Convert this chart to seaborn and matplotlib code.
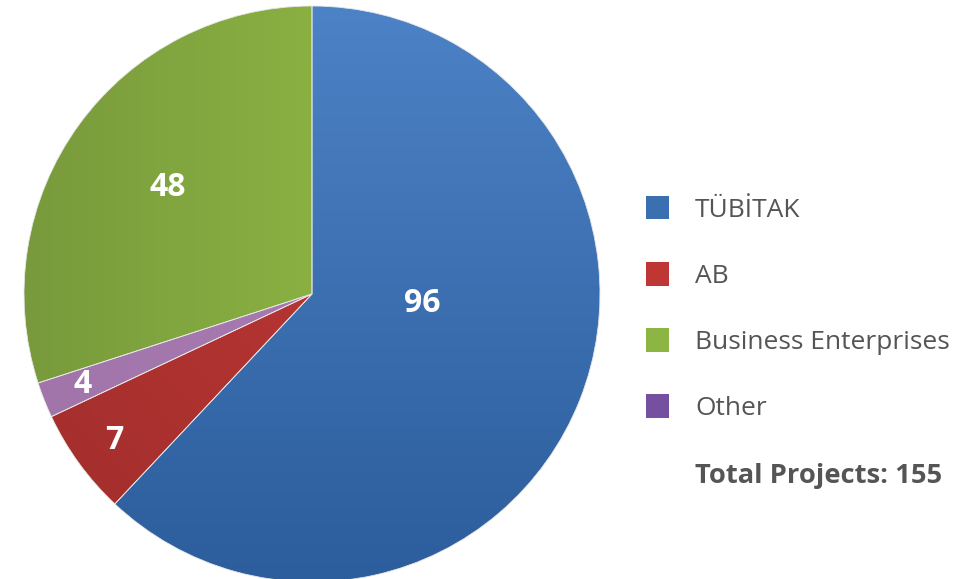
import numpy as np
import seaborn as sns
import matplotlib
matplotlib.use("Agg")
from matplotlib import pyplot as plt
from matplotlib.patches import Patch
from matplotlib.colors import LinearSegmentedColormap

# slices in drawing order (clockwise from top)
slice_names = ["TÜBİTAK", "AB", "Other", "Business Enterprises"]
# numbers printed on the slices
slice_labels = [96, 7, 4, 48]
# slice sizes as drawn in the original
slice_sizes = [96.1, 9.3, 3.1, 46.5]

# legend order as in the original
legend_names = ["TÜBİTAK", "AB", "Business Enterprises", "Other"]
total_label = "Total Projects: 155"

# light / dark shade of each slice and gradient direction (dx, dy)
shades = {
    "TÜBİTAK": ("#4c82c6", "#2c5d9c", (0, 1)),
    "AB": ("#cb3c3a", "#9f2d2b", (1, 1)),
    "Other": ("#ac80b6", "#a174aa", (1, 0)),
    "Business Enterprises": ("#9cc648", "#789a3c", (1, 0)),
}
legend_colors = {
    "TÜBİTAK": "#3a6fb0",
    "AB": "#bf3634",
    "Business Enterprises": "#8db544",
    "Other": "#7650a0",
}
# where the numbers sit inside the pie (axes data units)
label_pos = {
    "TÜBİTAK": (0.383, -0.032),
    "AB": (-0.685, -0.51),
    "Other": (-0.795, -0.315),
    "Business Enterprises": (-0.50, 0.37),
}

sns.set_style("white")
plt.rcParams["font.family"] = ["Open Sans", "DejaVu Sans"]

fig = plt.figure(figsize=(9.64, 5.79), dpi=100)
W, H = 964, 579
cx, cy, r = 312, 579 - 294, 288
ax = fig.add_axes([(cx - r) / W, (cy - r) / H, 2 * r / W, 2 * r / H])

wedges, _ = ax.pie(slice_sizes, startangle=90, counterclock=False,
                   colors=[shades[n][0] for n in slice_names],
                   wedgeprops=dict(linewidth=0.6, edgecolor="#e6e6e6"))

xx, yy = np.meshgrid(np.linspace(-1, 1, 300), np.linspace(-1, 1, 300))
for w, name in zip(wedges, slice_names):
    light, dark, (dx, dy) = shades[name]
    g = (xx * dx + yy * dy)
    g = (g - g.min()) / (g.max() - g.min())
    cmap = LinearSegmentedColormap.from_list(name, [dark, light])
    im = ax.imshow(g, cmap=cmap, extent=(-1, 1, -1, 1), origin="lower",
                   interpolation="bilinear", zorder=w.get_zorder())
    im.set_clip_path(w)
    w.set_facecolor("none")
    w.set_zorder(w.get_zorder() + 0.5)

for v, name in zip(slice_labels, slice_names):
    x, y = label_pos[name]
    ax.text(x, y, str(v), ha="center", va="center", color="white",
            fontsize=23, fontweight="bold", zorder=5)

ax.set_xlim(-1, 1)
ax.set_ylim(-1, 1)
ax.set_aspect("equal")
ax.axis("off")

handles = [Patch(facecolor=legend_colors[n], edgecolor="none") for n in legend_names]
leg = fig.legend(handles, legend_names, loc="upper left",
                 bbox_to_anchor=(622 / W, 1 - 172 / H), frameon=False,
                 fontsize=19, labelcolor="#555555", handlelength=0.87,
                 handleheight=1.0, handletextpad=1.0, labelspacing=1.49)
fig.text(695 / W, 1 - 476 / H, total_label, ha="left", va="center",
         fontsize=19.7, fontweight="bold", color="#555555")

fig.savefig("out.png", dpi=100)
